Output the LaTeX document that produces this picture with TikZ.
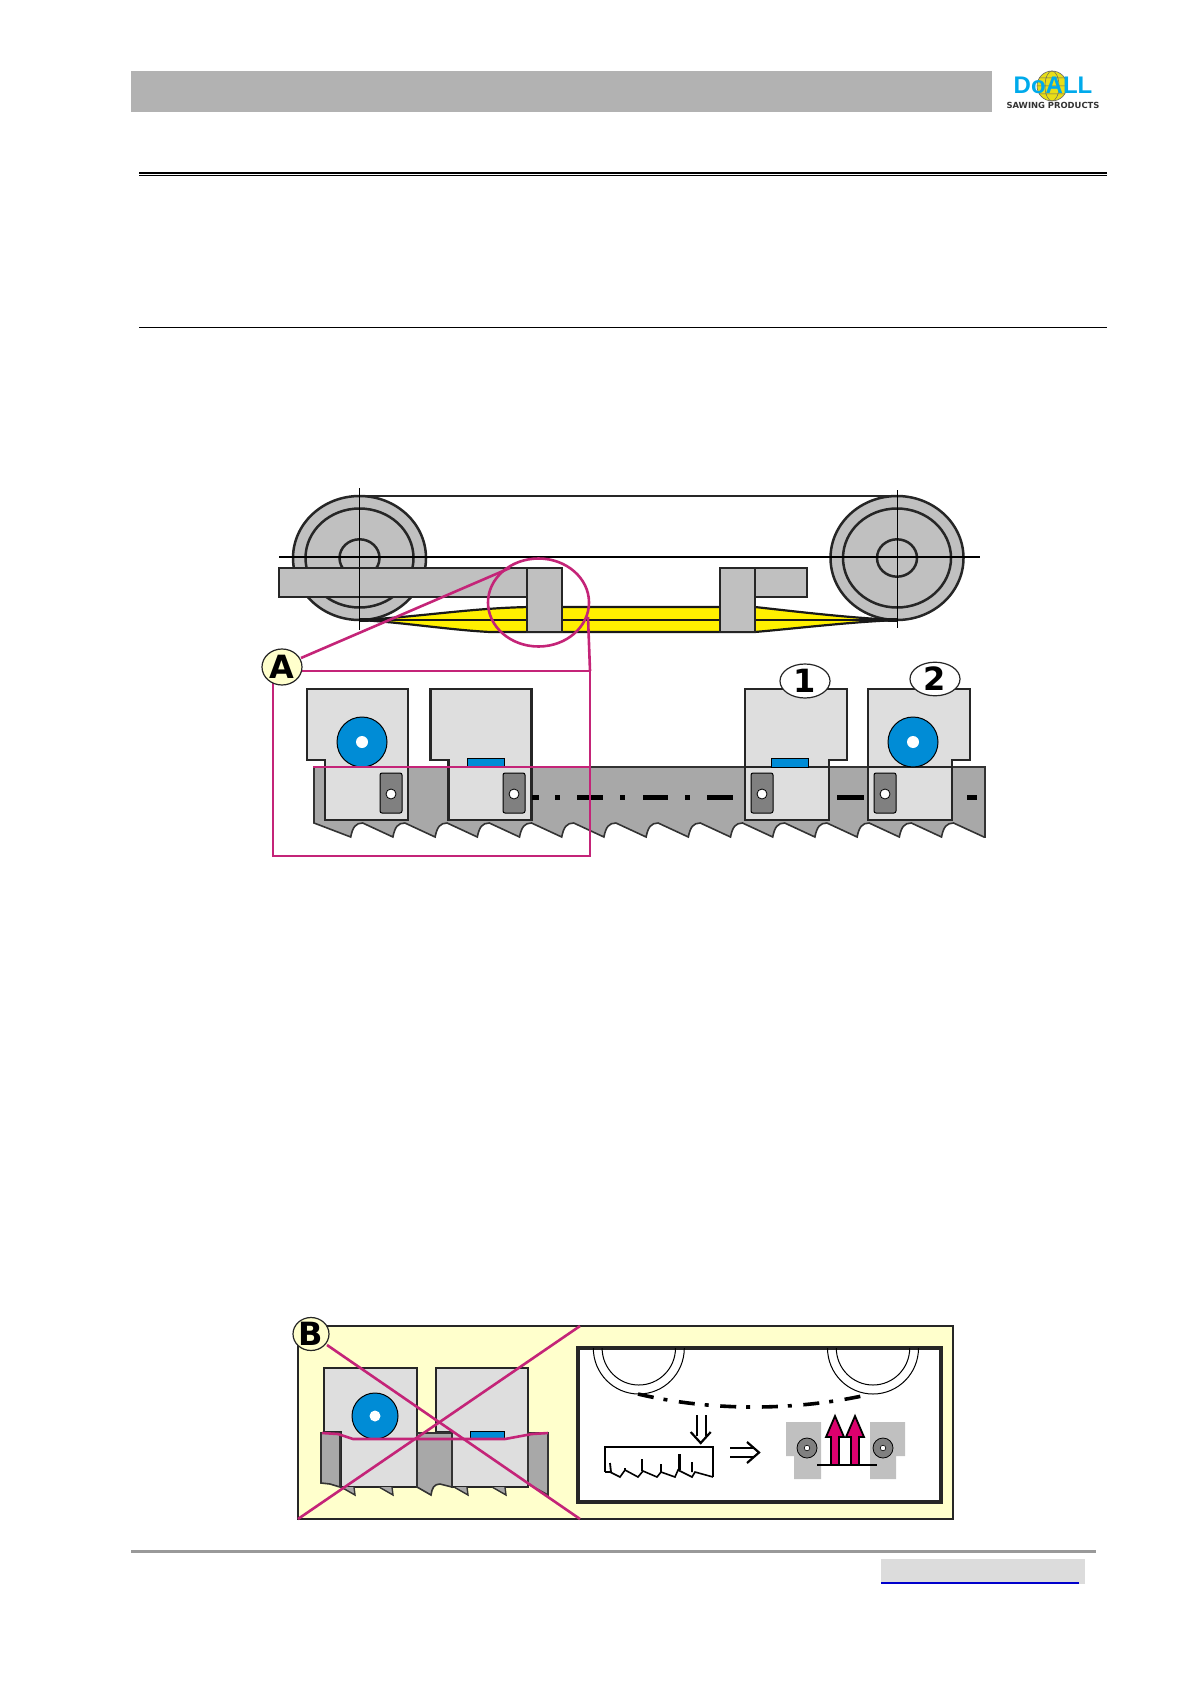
\documentclass[tikz,border=0pt]{standalone}
\usepackage{fontspec}
\setmainfont{Liberation Sans}
\newfontfamily\badgefont{DejaVu Sans}
\usetikzlibrary{shapes.geometric}
\definecolor{headgray}{RGB}{178,178,178}
\definecolor{partgray}{RGB}{192,192,192}
\definecolor{blockgray}{RGB}{222,222,222}
\definecolor{bandgray}{RGB}{168,168,168}
\definecolor{slotgray}{RGB}{128,128,128}
\definecolor{capblue}{RGB}{0,140,214}
\definecolor{logoblue}{RGB}{0,170,235}
\definecolor{beltyellow}{RGB}{255,240,0}
\definecolor{palecream}{RGB}{255,255,204}
\definecolor{crimson}{RGB}{196,36,120}
\definecolor{arrowpink}{RGB}{220,0,110}
\definecolor{linkblue}{RGB}{0,0,204}
\definecolor{footgray}{RGB}{220,220,220}
\tikzset{
  part/.style={draw=black!85, line width=1.25pt, fill=partgray},
  block/.style={draw=black!85, line width=1.3pt, fill=blockgray},
  redline/.style={draw=crimson, line width=1.3pt},
  badge/.style={draw=black!85, line width=.6pt, ellipse, inner sep=0pt, font=\badgefont\bfseries\fontsize{16}{16}\selectfont},
}
\begin{document}
\begin{tikzpicture}[x=.5pt,y=-.5pt]
    \useasboundingbox (0,0) rectangle (1191,1684);
    % header
    \fill[headgray] (131,71) rectangle (992,112);
    \draw[line width=.8pt] (139,173.3) -- (1107,173.3);
    \draw[line width=.5pt] (139,175.2) -- (1107,175.2);
    \draw[line width=.5pt] (139,327.3) -- (1107,327.3);
    \draw[fill=yellow!90!black, draw=black!60, line width=.3pt] (1052,86) circle (15);
    \draw[black!60, line width=.25pt] (1052,86) ellipse (7 and 15) (1037,86) -- (1067,86) (1039,78) -- (1065,78) (1039,94) -- (1065,94);
    \node[text=logoblue, font=\bfseries\fontsize{12}{12}\selectfont, inner sep=0pt] (logo) at (1053,85) {DoALL};
    \node[text=black!80, font=\badgefont\bfseries\fontsize{4.2}{5}\selectfont, inner sep=0pt] (logotext) at (1053,105) {SAWING PRODUCTS};
    % wheels and belt
    \foreach \cx in {359.5,897} {
        \draw[part] (\cx,558) ellipse (66.5 and 62);
        \draw[part] (\cx,558) ellipse (54 and 49.5);
        \draw[part, fill=none] (\cx,558) ellipse (20 and 18.7);
    }
    \draw[line width=1.3pt, black!85] (359.5,496) -- (897,496);
    \draw[fill=beltyellow, draw=black!90, line width=1.1pt] (359.5,620) .. controls (420,617) and (470,608) .. (530,607) -- (755,607) .. controls (800,612) and (850,618) .. (897,620) .. controls (850,622) and (800,628) .. (755,632) -- (490,632) .. controls (450,630) and (400,622) .. (359.5,620) -- cycle;
    \draw[line width=1.1pt, black!90] (359.5,620) -- (897,620);
    \fill[black!90] (359.5,618) -- (430,620) -- (359.5,622) -- cycle;
    \fill[black!90] (897,618) -- (826,620) -- (897,622) -- cycle;
    \draw[line width=.4pt] (359.5,488) -- (359.5,630);
    \draw[line width=.4pt] (897,490) -- (897,628);
    \draw[line width=.7pt] (279,557) -- (980,557);
    \draw[part] (279,568) rectangle (527,597);
    \draw[line width=.4pt] (359.5,568) -- (359.5,630);
    \draw[part] (755,568) rectangle (807,597);
    \draw[part] (527,568) rectangle (562,632);
    \draw[part] (720,568) rectangle (755,632);
    % saw band
    \path[draw=black!80, line width=.8pt, fill=bandgray] (314,767) -- (985,767) -- (985,837) -- (984,837)
        \foreach \k in {14,13,...,0} {
            -- ({350.7+42.2*\k+12},823) .. controls ({350.7+42.2*\k+5},823) and ({350.7+42.2*\k+2},827) .. ({350.7+42.2*\k},837)
        }
        -- (314,823) -- cycle;
    % blocks
    \foreach \ox in {0,123.3} {
        \draw[block] ({307+\ox},689) -- ({408+\ox},689) -- ({408+\ox},820) -- ({325+\ox},820) -- ({325+\ox},760) -- ({307+\ox},760) -- cycle;
    }
    \foreach \ox in {0,123} {
        \draw[block] ({745+\ox},689) -- ({847+\ox},689) -- ({847+\ox},760) -- ({829+\ox},760) -- ({829+\ox},820) -- ({745+\ox},820) -- cycle;
    }
    \draw[line width=1.3pt, black!85] (745,767) -- (829,767);
    \draw[line width=1.3pt, black!85] (868,767) -- (952,767);
    \foreach \cx in {362,913} {
        \draw[fill=capblue, line width=.5pt] (\cx,742) circle (25);
        \fill[white] (\cx,742) circle (6);
    }
    \foreach \bx in {467,771} {
        \draw[fill=capblue, line width=.5pt] (\bx,758) rectangle ({\bx+37},767);
    }
    \foreach \sx in {380,503,751,874} {
        \draw[fill=slotgray, rounded corners=1pt, line width=.5pt] (\sx,773) rectangle ({\sx+22},813);
        \draw[fill=white, line width=.4pt] ({\sx+11},794) circle (5);
    }
    \foreach \da/\db in {532/539,555/560,577/603,620/625,643/668,685/690,707/733,837/864,967/977} {
        \draw[line width=2.5pt] (\da,797) -- (\db,797);
    }
    % detail A
    \draw[redline] (538.5,602.5) ellipse (50.5 and 44);
    \draw[redline] (273,671) rectangle (590,856);
    \draw[redline] (313,767) -- (590,767);
    \draw[redline] (510,568) -- (301,658);
    \draw[redline] (588,617) -- (590,671);
    \node[badge, fill=palecream, minimum width=20pt, minimum height=18pt] (labela) at (282,667) {A};
    \node[badge, fill=white, minimum width=25pt, minimum height=17pt] (labelone) at (805,681) {1};
    \node[badge, fill=white, minimum width=25pt, minimum height=16pt] (labeltwo) at (935,679) {2};
    % detail B
    \draw[line width=1.1pt, black!85, fill=palecream] (298,1326) rectangle (953,1519);
    \draw[block] (324,1368) -- (417,1368) -- (417,1487) -- (341,1487) -- (341,1432) -- (324,1432) -- cycle;
    \draw[block] (436,1368) -- (528,1368) -- (528,1487) -- (452,1487) -- (452,1432) -- (436,1432) -- cycle;
    \draw[line width=.8pt, black!80, fill=bandgray] (321,1433) -- (340,1433) -- (340,1487) -- (330,1484) -- (321,1483) -- cycle;
    \draw[line width=.8pt, black!80, fill=bandgray] (417,1433) -- (452,1433) -- (452,1487) -- (440,1484) .. controls (434,1484) and (432,1488) .. (431,1495) -- (417,1487) -- cycle;
    \draw[line width=.8pt, black!80, fill=bandgray] (528,1433) -- (548,1433) -- (548,1495) -- (528,1484) -- cycle;
    \foreach \tx in {355,393,468,506} {
        \draw[line width=.7pt, black!80, fill=bandgray] ({\tx-14},1487) -- (\tx,1495) -- ({\tx-1},1487);
    }
    \draw[fill=capblue, line width=.5pt] (375,1416) circle (23);
    \fill[white] (375,1416) circle (5.5);
    \draw[fill=capblue, line width=.5pt] (470,1431) rectangle (504,1439);
    \draw[redline] (322,1433) -- (338,1434) -- (353,1439) -- (505,1439) -- (532,1434) -- (548,1433);
    \draw[redline] (327,1345) -- (580,1519);
    \draw[redline] (298,1519) -- (580,1326);
    \node[badge, fill=palecream, minimum width=18pt, minimum height=16pt] (labelb) at (311,1334) {B};
    \draw[line width=1.7pt, black!85, fill=white] (578,1348) rectangle (941,1502);
    \begin{scope}
        \clip (578,1348) rectangle (941,1502);
        \foreach \cx in {638.8,873} {
            \draw[line width=.5pt] (\cx,1348) ellipse (45.5 and 46);
            \draw[line width=.5pt] (\cx,1348) ellipse (36.7 and 37);
        }
    \end{scope}
    \draw[line width=1.8pt, dash pattern=on 8pt off 5pt on 2pt off 5.8pt] (638,1394) .. controls (710,1411) and (790,1411) .. (862,1396);
    \draw[line width=1.1pt] (696.7,1415) -- (696.7,1436) (706,1415) -- (706,1436);
    \draw[line width=1.1pt] (690.7,1432) -- (700.7,1443) -- (710.7,1432);
    \draw[line width=1.1pt] (730,1448) -- (753,1448) (730,1457) -- (753,1457);
    \draw[line width=1.1pt] (747,1442) -- (759,1452.5) -- (747,1463);
    \draw[line width=.8pt] (605,1472) -- (605,1447) -- (713,1447) -- (713,1477);
    \draw[line width=.8pt] (605,1472) -- (610,1472) -- (620,1477) -- (625,1470) -- (638,1477) -- (643,1471) -- (657,1477) -- (661,1472) -- (675,1477) -- (678,1470) -- (692,1477) -- (695,1472) -- (713,1477);
    \draw[line width=.9pt] (610,1463) -- (611,1472) (625,1468) -- (625,1470) (642,1459) -- (642,1471) (661,1464) -- (661,1472) (692,1462) -- (692,1472);
    \draw[line width=1.5pt] (679,1454) -- (679,1470);
    % clamps
    \fill[partgray] (786,1422) -- (821,1422) -- (821,1479) -- (794,1479) -- (794,1456) -- (786,1456) -- cycle;
    \fill[partgray] (870,1422) -- (905,1422) -- (905,1456) -- (896,1456) -- (896,1479) -- (870,1479) -- cycle;
    \foreach \cx in {807,883} {
        \draw[fill=slotgray, line width=.4pt] (\cx,1448) circle (10);
        \draw[fill=white, line width=.3pt] (\cx,1448) circle (2.8);
    }
    \foreach \ax in {835,855} {
        \draw[fill=arrowpink, line width=.9pt] ({\ax-4},1465) -- ({\ax-4},1437) -- ({\ax-9},1437) -- (\ax,1416) -- ({\ax+9},1437) -- ({\ax+4},1437) -- ({\ax+4},1465) -- cycle;
    }
    \draw[line width=1.2pt] (817,1465) -- (877,1465);
    % footer
    \draw[line width=1.5pt, black!40] (131,1551) -- (1096,1551);
    \fill[footgray] (881,1559) rectangle (1085,1584);
    \draw[line width=.8pt, linkblue] (881,1583) -- (1079,1583);
\end{tikzpicture}
\end{document}
